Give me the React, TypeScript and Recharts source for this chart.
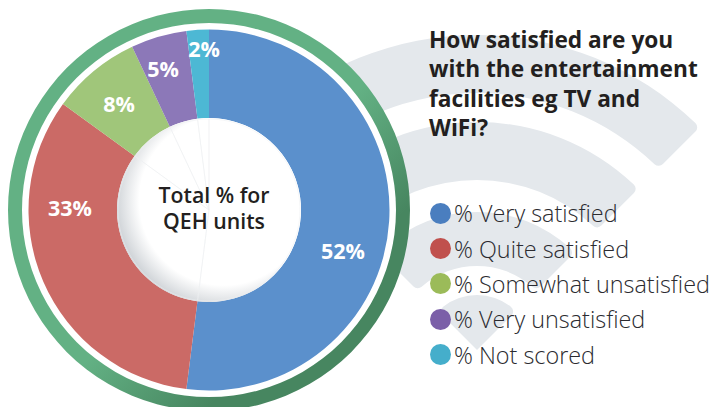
import { PieChart, Pie, Cell, Legend } from "recharts";

const categories = ["% Very satisfied", "% Quite satisfied", "% Somewhat unsatisfied", "% Very unsatisfied", "% Not scored"];
const values = [52, 33, 8, 5, 2];
const sliceColors = ["#5b90cc", "#cb6a66", "#a0c67a", "#8c78b8", "#4db8d4"];
const legendColors = ["#4a7ebf", "#c0504d", "#9bbb59", "#7b5fa8", "#45aecb"];
const titleLines = ["How satisfied are you", "with the entertainment", "facilities eg TV and", "WiFi?"];
const centerLines = ["Total % for", "QEH units"];

// hand placed in the original, they do not sit on the slice mid angles
const labelSpots = [
  [343, 250],
  [70, 207],
  [119, 103],
  [163, 68],
  [204, 48],
];

// background wifi bands, inner and outer radius
const wifiBands = [
  [0, 55],
  [84, 138],
  [170, 228],
  [257, 315],
];

const data = categories.map((name, i) => ({ name, value: values[i] }));
const whole = [{ name: "whole", value: 1 }];

const CX = 209;
const CY = 210;

function SliceLabel({ index, value }: any) {
  const [x, y] = labelSpots[index];
  return (
    <text
      x={x}
      y={y}
      textAnchor="middle"
      dominantBaseline="central"
      fill="#ffffff"
      fontSize={21.5}
      fontWeight={700}
      fontFamily="'Open Sans', sans-serif"
    >
      {value}%
    </text>
  );
}

function LegendList() {
  return (
    <div style={{ fontFamily: "'Open Sans', sans-serif", fontWeight: 300, fontSize: 23.4, color: "#2b2b30" }}>
      {categories.map((name, i) => (
        <div key={name} style={{ display: "flex", alignItems: "center", height: 35.4, whiteSpace: "nowrap" }}>
          <span
            style={{
              width: 21,
              height: 21,
              borderRadius: "50%",
              background: legendColors[i],
              marginRight: 3,
              flex: "none",
            }}
          />
          {name}
        </div>
      ))}
    </div>
  );
}

export default function App() {
  return (
    <div style={{ position: "absolute", left: 0, top: 0, width: 712, height: 407, background: "#fff", overflow: "hidden" }}>
      <PieChart width={712} height={407} margin={{ top: 0, right: 0, bottom: 0, left: 0 }}>
        <defs>
          <linearGradient id="ringFill" x1="0.15" y1="0.15" x2="0.85" y2="0.85">
            <stop offset="0.55" stopColor="#63b184" />
            <stop offset="0.85" stopColor="#478660" />
          </linearGradient>
          <radialGradient id="holeFill" cx="0.58" cy="0.45" r="0.62">
            <stop offset="0.74" stopColor="#ffffff" />
            <stop offset="1" stopColor="#c4c9ce" />
          </radialGradient>
        </defs>
        {wifiBands.map(([inner, outer]) => (
          <Pie
            key={outer}
            data={whole}
            dataKey="value"
            cx={477}
            cy={350}
            innerRadius={inner}
            outerRadius={outer}
            startAngle={135}
            endAngle={45}
            cornerRadius={6}
            fill="#e4e8ec"
            stroke="none"
            isAnimationActive={false}
          />
        ))}
        <Pie data={whole} dataKey="value" cx={CX} cy={CY} innerRadius={0} outerRadius={187} fill="#ffffff" stroke="none" isAnimationActive={false} />
        <Pie
          data={whole}
          dataKey="value"
          cx={CX}
          cy={CY}
          innerRadius={187}
          outerRadius={201}
          startAngle={90}
          endAngle={-270}
          fill="url(#ringFill)"
          stroke="none"
          isAnimationActive={false}
        />
        <Pie
          data={data}
          dataKey="value"
          cx={CX}
          cy={CY}
          innerRadius={92}
          outerRadius={180.5}
          startAngle={90}
          endAngle={-270}
          stroke="none"
          label={SliceLabel}
          labelLine={false}
          isAnimationActive={false}
        >
          {data.map((d, i) => (
            <Cell key={d.name} fill={sliceColors[i]} />
          ))}
        </Pie>
        <Pie data={whole} dataKey="value" cx={CX} cy={CY} innerRadius={0} outerRadius={92} startAngle={90} endAngle={-270} fill="url(#holeFill)" stroke="none" isAnimationActive={false} />
        {/* faint slice seams carry on through the hole */}
        <Pie
          data={data}
          dataKey="value"
          cx={CX}
          cy={CY}
          innerRadius={0}
          outerRadius={91}
          startAngle={90}
          endAngle={-270}
          fill="none"
          stroke="#eceef1"
          strokeWidth={0.5}
          isAnimationActive={false}
        />
        <Legend
          content={<LegendList />}
          wrapperStyle={{ position: "absolute", left: 430, top: 195.5, width: 282, bottom: "auto", right: "auto" }}
        />
      </PieChart>
      <div
        style={{
          position: "absolute",
          left: 429,
          top: 25,
          fontFamily: "'Open Sans', sans-serif",
          fontWeight: 700,
          fontSize: 22.7,
          lineHeight: "29.3px",
          color: "#231f20",
          whiteSpace: "nowrap",
        }}
      >
        {titleLines.map((t) => (
          <div key={t}>{t}</div>
        ))}
      </div>
      <div
        style={{
          position: "absolute",
          left: 114,
          width: 200,
          top: 182,
          textAlign: "center",
          fontFamily: "'Open Sans', sans-serif",
          fontWeight: 600,
          fontSize: 21.3,
          lineHeight: "26px",
          color: "#231f20",
        }}
      >
        {centerLines.map((t) => (
          <div key={t}>{t}</div>
        ))}
      </div>
    </div>
  );
}
